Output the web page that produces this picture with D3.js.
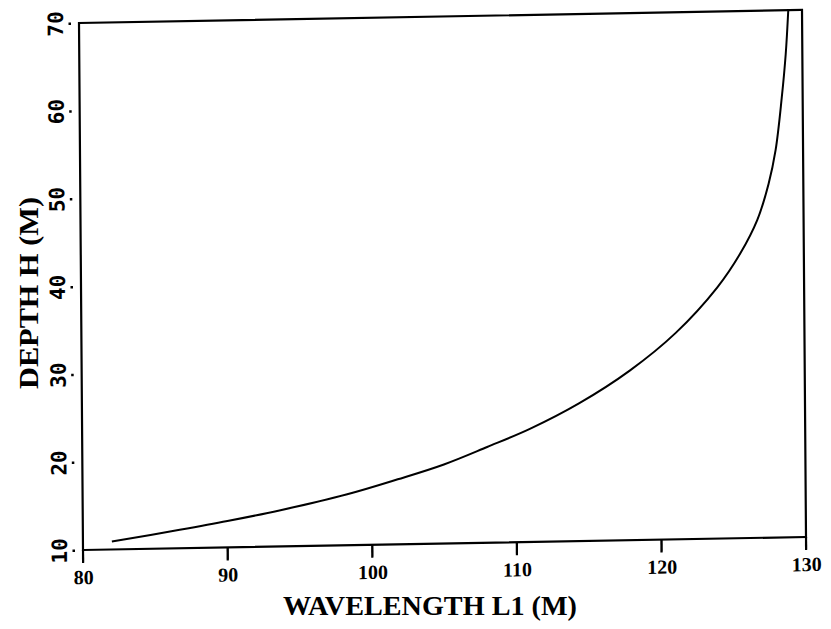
<!DOCTYPE html>
<html>
<head>
<meta charset="utf-8">
<script src="https://cdn.jsdelivr.net/npm/d3@7"></script>
<style>
  body { margin: 0; background: #fff; }
  svg { display: block; }
</style>
</head>
<body>
<div id="chart"></div>
<script>
// wavelength L1 (M) vs depth H (M)
var wavelength = [82.0, 86.7, 90.0, 93.6, 98.3, 101.8, 105.0, 108.0, 111.0, 114.4,
                  117.9, 121.1, 124.0, 125.6, 126.8, 127.6, 128.1, 128.55, 128.85, 129.05];
var depth = [10.9, 12.1, 13.0, 14.1, 15.8, 17.4, 19.0, 20.9, 22.9, 25.7,
             29.3, 33.5, 38.6, 42.4, 46.2, 50.3, 54.1, 60.0, 65.0, 70];

var xTicks = [80, 90, 100, 110, 120, 130];
var yTicks = [10, 20, 30, 40, 50, 60, 70];

var width = 831, height = 629;
var plotW = 723, plotH = 527;

var svg = d3.select("#chart")
    .append("svg")
    .attr("width", width)
    .attr("height", height);

// the scan is slightly skewed, so the frame is too
var g = svg.append("g")
    .attr("transform", "matrix(1,-0.018,0.0076,1,79,23)");

var x = d3.scaleLinear().domain([80, 130]).range([0, plotW]);
var y = d3.scaleLinear().domain([10, 70]).range([plotH, 0]);

// x axis labels
var xAxis = g.append("g")
    .attr("transform", "translate(0," + plotH + ")")
    .call(d3.axisBottom(x).tickValues(xTicks).tickSize(12).tickPadding(8));
xAxis.select(".domain").remove();
xAxis.selectAll("text")
    .attr("fill", "#000")
    .style("font-family", "'Liberation Serif', serif")
    .style("font-weight", "bold")
    .style("font-size", "20px");

// tick marks hanging below the frame
g.selectAll("line.xtick")
    .data(xTicks)
    .enter()
    .append("line")
    .attr("class", "xtick")
    .attr("x1", function(d) { return x(d); })
    .attr("x2", function(d) { return x(d); })
    .attr("y1", y(10))
    .attr("y2", y(10) + 13)
    .attr("stroke", "#000")
    .attr("stroke-width", 2.2);

// y axis: little dots and sideways numbers
var yAxis = g.append("g")
    .call(d3.axisLeft(y).tickValues(yTicks).tickSize(0));
yAxis.select(".domain").remove();
yAxis.selectAll(".tick line")
    .attr("x1", -8).attr("x2", -10.5)
    .style("stroke", "#000").style("stroke-width", "2.5px");
yAxis.selectAll("text")
    .attr("x", 0).attr("y", -16).attr("dy", 0)
    .attr("transform", "rotate(-90)")
    .attr("text-anchor", "middle")
    .attr("fill", "#000")
    .style("font-family", "'DejaVu Sans Mono', monospace")
    .style("font-weight", "bold")
    .style("font-size", "21px");

// frame
g.append("rect")
    .attr("x", x(80)).attr("y", y(70))
    .attr("width", x(130) - x(80)).attr("height", y(10) - y(70))
    .attr("fill", "none")
    .attr("stroke", "#000")
    .attr("stroke-width", 2.2);

// curve
var pts = wavelength.map(function(d, i) { return [d, depth[i]]; });
var line = d3.line()
    .x(function(d) { return x(d[0]); })
    .y(function(d) { return y(d[1]); })
    .curve(d3.curveCatmullRom.alpha(0.5));

g.append("path")
    .datum(pts)
    .attr("d", line)
    .attr("fill", "none")
    .attr("stroke", "#000")
    .attr("stroke-width", 2);

// axis titles
svg.append("text")
    .attr("x", 430).attr("y", 615)
    .attr("text-anchor", "middle")
    .attr("textLength", 294)
    .attr("lengthAdjust", "spacingAndGlyphs")
    .style("font-family", "'Liberation Serif', serif")
    .style("font-weight", "bold")
    .style("font-size", "27px")
    .text("WAVELENGTH L1 (M)");

svg.append("text")
    .attr("transform", "translate(38,293) rotate(-90)")
    .attr("text-anchor", "middle")
    .attr("textLength", 192)
    .attr("lengthAdjust", "spacingAndGlyphs")
    .style("font-family", "'Liberation Serif', serif")
    .style("font-weight", "bold")
    .style("font-size", "27px")
    .text("DEPTH H (M)");
</script>
</body>
</html>
